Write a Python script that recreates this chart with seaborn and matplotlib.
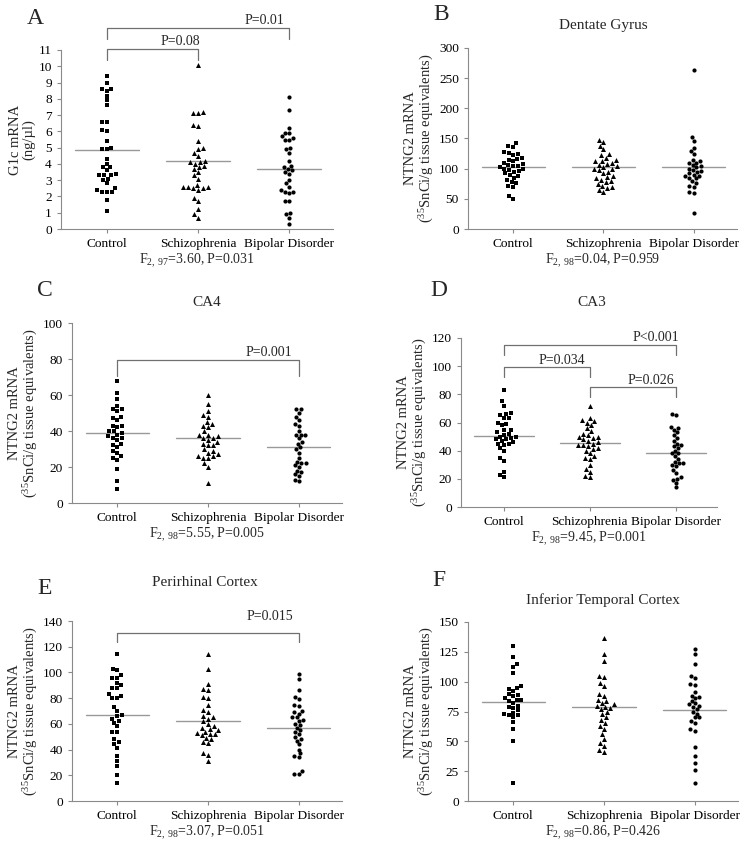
import numpy as np
import pandas as pd
import matplotlib
matplotlib.use('Agg')
import matplotlib.pyplot as plt
import seaborn as sns

groups = ['Control', 'Schizophrenia', 'Bipolar Disorder']

# A - G1c mRNA (ng/ul)
a_ctrl = [9.4, 9.0, 8.6, 8.6, 8.5, 8.2, 7.9, 7.6, 6.6, 6.6, 6.1, 6.0, 5.4, 5.0, 4.9, 4.9,
          4.3, 4.0, 3.8, 3.8, 3.6, 3.4, 3.3, 3.3, 3.3, 3.1, 3.0, 2.8, 2.5, 2.4, 2.3, 2.3,
          2.3, 1.8, 1.1]
a_scz = [10.1, 7.2, 7.1, 7.1, 6.4, 6.3, 5.4, 5.0, 4.9, 4.7, 4.5, 4.2, 4.1, 4.1, 4.0,
         3.9, 3.8, 3.7, 3.5, 3.3, 3.1, 2.7, 2.6, 2.6, 2.6, 2.5, 2.5, 2.4, 1.9, 1.7,
         1.2, 0.9, 0.7]
a_bpd = [8.1, 7.3, 6.2, 5.9, 5.9, 5.7, 5.6, 5.5, 5.5, 5.0, 4.9, 4.7, 4.2, 3.9, 3.8,
         3.7, 3.6, 3.5, 3.4, 3.0, 2.8, 2.6, 2.4, 2.3, 2.3, 2.2, 1.7, 1.7, 1.0, 0.9,
         0.7, 0.3]
a_means = [4.85, 4.15, 3.7]

# B - Dentate Gyrus
b_ctrl = [142, 138, 136, 128, 126, 125, 122, 118, 116, 115, 112, 110, 108, 106, 105,
          104, 102, 100, 100, 98, 96, 95, 92, 90, 88, 85, 82, 78, 76, 72, 70, 54, 50]
b_scz = [148, 145, 138, 132, 125, 122, 118, 115, 112, 112, 110, 108, 106, 104, 102,
         100, 100, 97, 95, 92, 88, 86, 84, 82, 80, 78, 75, 72, 70, 68, 65, 62]
b_bpd = [263, 152, 146, 135, 130, 125, 115, 113, 110, 110, 106, 104, 102, 100, 98,
         96, 95, 92, 90, 88, 88, 85, 84, 80, 76, 72, 70, 62, 60, 26]
b_means = [102, 103, 103]

# C - CA4
c_ctrl = [68, 61, 58, 54, 52, 52, 51, 48, 47, 46, 43, 43, 42, 40, 40, 39, 38, 37, 36,
          36, 35, 33, 32, 31, 29, 28, 26, 25, 24, 19, 12, 8]
c_scz = [60, 55, 51, 49, 48, 45, 44, 43, 42, 40, 38, 38, 37, 36, 36, 35, 34, 33, 32,
         32, 30, 29, 28, 27, 26, 26, 25, 25, 22, 20, 11]
c_bpd = [52, 52, 50, 48, 46, 44, 43, 40, 38, 38, 38, 36, 34, 33, 31, 30, 28, 25, 23,
         22, 22, 21, 20, 18, 17, 16, 15, 13, 12]
c_means = [39, 36, 31]

# D - CA3
d_ctrl = [83, 75, 72, 67, 66, 65, 63, 63, 60, 59, 58, 55, 55, 53, 52, 51, 50, 50, 49,
          48, 48, 47, 46, 45, 45, 44, 42, 40, 35, 33, 25, 23, 21]
d_scz = [72, 63, 62, 61, 60, 58, 56, 54, 52, 51, 50, 50, 49, 48, 47, 46, 45, 44, 44,
         43, 42, 41, 40, 38, 36, 35, 34, 30, 27, 25, 22, 21]
d_bpd = [66, 65, 57, 56, 55, 53, 51, 49, 47, 45, 44, 43, 42, 40, 38, 38, 36, 34, 32,
         31, 31, 30, 29, 26, 24, 21, 20, 19, 17, 14]
d_means = [50.5, 45.5, 38.5]

# E - Perirhinal Cortex
e_ctrl = [114, 103, 102, 98, 96, 96, 92, 90, 88, 88, 83, 82, 80, 80, 73, 70, 67, 66,
          64, 62, 61, 58, 54, 54, 48, 46, 44, 41, 35, 31, 27, 20, 14]
e_scz = [114, 103, 91, 87, 86, 81, 80, 75, 71, 69, 66, 65, 64, 62, 60, 58, 57, 56, 55,
         54, 53, 52, 52, 51, 49, 48, 46, 45, 37, 36, 31]
e_bpd = [99, 95, 86, 81, 79, 75, 74, 70, 69, 68, 65, 65, 63, 62, 60, 59, 57, 55, 54,
         52, 50, 48, 47, 44, 40, 37, 35, 34, 23, 21, 21]
e_means = [67, 62.5, 56.5]

# F - Inferior Temporal Cortex
f_ctrl = [130, 121, 115, 112, 107, 96, 95, 94, 92, 90, 89, 88, 86, 85, 85, 84, 82, 80,
          79, 78, 76, 74, 73, 72, 72, 70, 66, 60, 50, 15]
f_scz = [137, 123, 117, 105, 104, 99, 96, 90, 88, 85, 84, 82, 81, 80, 79, 78, 77, 75,
         73, 70, 68, 65, 63, 60, 56, 52, 49, 46, 43, 41]
f_bpd = [127, 123, 115, 105, 103, 98, 97, 91, 88, 87, 86, 84, 82, 81, 80, 79, 77, 75,
         73, 70, 70, 67, 65, 60, 59, 45, 38, 32, 26, 15]
f_means = [83, 79, 76]

sns.set_style('ticks')
plt.rcParams['font.family'] = ['Liberation Serif', 'DejaVu Serif']
plt.rcParams['mathtext.fontset'] = 'custom'
plt.rcParams['mathtext.rm'] = 'Liberation Serif'
plt.rcParams['mathtext.it'] = 'Liberation Serif:italic'

W, H = 750, 850
fig = plt.figure(figsize=(7.5, 8.5), dpi=100)

markers = ['s', '^', 'o']
msizes = [3.4, 3.6, 3.0]
grey = '#8a8a8a'
nt_label = 'NTNG2 mRNA\n($^{35}$SnCi/g tissue equivalents)'


def px_rect(l, t, r, b):
    return [l / W, 1 - b / H, (r - l) / W, (b - t) / H]


def panel(rect, vals, means, ymax, ystep, ylabel, stat, brackets=()):
    ax = fig.add_axes(rect)
    df = pd.DataFrame({'group': np.repeat(groups, [len(v) for v in vals]),
                       'value': np.concatenate(vals)})
    for g, m, s in zip(groups, markers, msizes):
        sns.swarmplot(data=df[df['group'] == g], x='group', y='value', order=groups,
                      marker=m, size=s, color='black', linewidth=0, ax=ax)
    for i, mv in enumerate(means):
        ax.plot([i - 0.35, i + 0.35], [mv, mv], color='#999999', lw=1)
    for x1, x2, ytop, yleg, txt, tx, ty in brackets:
        ax.plot([x1, x1, x2, x2], [yleg, ytop, ytop, yleg], color='#707070', lw=0.9,
                clip_on=False)
        ax.text(tx, ty, txt, ha='center', va='center', fontsize=10)
    ax.set_xlim(-0.5, 2.48)
    ax.set_ylim(0, ymax)
    ax.set_yticks(np.arange(0, ymax + 0.01, ystep))
    sns.despine(ax=ax)
    for sp in ['left', 'bottom']:
        ax.spines[sp].set_color(grey)
    ax.tick_params(colors=grey, labelcolor='black', labelsize=9.6, length=3, width=0.8)
    ax.set_ylabel(ylabel, fontsize=10.5, labelpad=2, linespacing=1.05)
    ax.set_xlabel(stat, fontsize=10, labelpad=1)
    return ax


panel(px_rect(61, 50, 333, 229), [a_ctrl, a_scz, a_bpd], a_means, 11, 1,
      'G1c mRNA\n(ng/\u00b5l)', r'F$_{2,\ 97}$=3.60, P=0.031',
      [(0, 1, 11.05, 10.4, 'P=0.08', 0.81, 11.5),
       (0, 2, 12.35, 11.7, 'P=0.01', 1.73, 12.8)])
panel(px_rect(468, 48, 737, 229), [b_ctrl, b_scz, b_bpd], b_means, 300, 50,
      nt_label, r'F$_{2,\ 98}$=0.04, P=0.959')
panel(px_rect(72, 323, 342, 503), [c_ctrl, c_scz, c_bpd], c_means, 100, 20,
      nt_label, r'F$_{2,\ 98}$=5.55, P=0.005',
      [(0, 2, 79.5, 70.5, 'P=0.001', 1.67, 83.5)])
panel(px_rect(461, 338, 717, 507), [d_ctrl, d_scz, d_bpd], d_means, 120, 20,
      nt_label, r'F$_{2,\ 98}$=9.45, P=0.001',
      [(0, 2, 115, 108, 'P<0.001', 1.77, 120.5),
       (0, 1, 99.5, 92, 'P=0.034', 0.67, 104),
       (1, 2, 85, 78, 'P=0.026', 1.71, 90)])
panel(px_rect(72, 621, 342, 801), [e_ctrl, e_scz, e_bpd], e_means, 140, 20,
      nt_label, r'F$_{2,\ 98}$=3.07, P=0.051',
      [(0, 2, 130.6, 123.6, 'P=0.015', 1.68, 143.5)])
panel(px_rect(468, 622, 738, 801), [f_ctrl, f_scz, f_bpd], f_means, 150, 25,
      nt_label, r'F$_{2,\ 98}$=0.86, P=0.426')

# panel letters and titles
for txt, x, y in [('A', 35, 18), ('B', 441, 14), ('C', 45, 290), ('D', 439, 291),
                  ('E', 45, 589), ('F', 439, 581)]:
    fig.text(x / W, 1 - y / H, txt, fontsize=17, ha='center', va='center')
for txt, x, y in [('Dentate Gyrus', 603, 25), ('CA4', 207, 302), ('CA3', 592, 302),
                  ('Perirhinal Cortex', 205, 582), ('Inferior Temporal Cortex', 603, 600)]:
    fig.text(x / W, 1 - y / H, txt, fontsize=11, ha='center', va='center')

fig.savefig('out.png', dpi=100, facecolor='white')
